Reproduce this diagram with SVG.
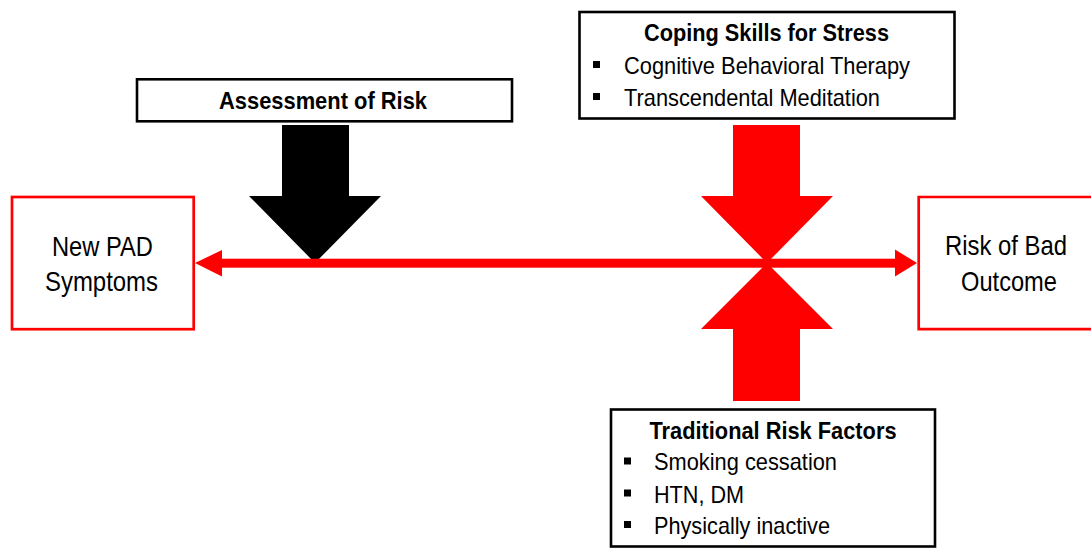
<svg xmlns="http://www.w3.org/2000/svg" width="1091" height="548" viewBox="0 0 1091 548">
<style>
.rbox{fill:#fff;stroke:#ff0000;stroke-width:2.7}
.kbox{fill:#fff;stroke:#000;stroke-width:2.6}
.big{font-family:"Liberation Sans Narrow","Arial Narrow","Liberation Sans",Arial,sans-serif;font-size:28px;fill:#000}
.ttl{font-family:"Liberation Sans",Arial,sans-serif;font-size:24px;font-weight:bold;fill:#000}
.itm{font-family:"Liberation Sans",Arial,sans-serif;font-size:24px;fill:#000}
.bul{fill:#000}
</style>
<rect width="1091" height="548" fill="#fff"/>
<g id="connectors">
<polygon id="arrow-assessment" points="282,125 349,125 349,196 381,196 315,263 249,196 282,196" fill="#000"/>
<polygon id="arrow-coping" points="733,125 800,125 800,196 833,196 767,263 701,196 733,196" fill="#ff0000"/>
<polygon id="arrow-traditional" points="733,401 800,401 800,329 833,329 767,263 701,329 733,329" fill="#ff0000"/>
<rect id="axis-line" x="220" y="258.7" width="677" height="9" fill="#ff0000"/>
<polygon points="195,263 222,250 222,276.5" fill="#ff0000"/>
<polygon points="917,263 895,249.5 895,276.5" fill="#ff0000"/>
</g>
<g id="node-new-pad">
<rect class="rbox" x="12" y="197" width="181.7" height="132.2"/>
<text class="big" x="52" y="256" textLength="101" lengthAdjust="spacingAndGlyphs">New PAD</text>
<text class="big" x="45" y="290.5" textLength="113" lengthAdjust="spacingAndGlyphs">Symptoms</text>
</g>
<g id="node-risk-outcome">
<path class="rbox" d="M1091,197 H918.7 V329.2 H1091"/>
<text class="big" x="945" y="255" textLength="122" lengthAdjust="spacingAndGlyphs">Risk of Bad</text>
<text class="big" x="961" y="290.5" textLength="96" lengthAdjust="spacingAndGlyphs">Outcome</text>
</g>
<g id="node-assessment">
<rect class="kbox" x="137" y="79.3" width="375" height="42"/>
<text class="ttl" x="219" y="109" textLength="208" lengthAdjust="spacingAndGlyphs">Assessment of Risk</text>
</g>
<g id="node-coping">
<rect class="kbox" x="579.5" y="12" width="375" height="106.5"/>
<text class="ttl" x="644" y="40.5" textLength="245" lengthAdjust="spacingAndGlyphs">Coping Skills for Stress</text>
<rect class="bul" x="593" y="61" width="7" height="7"/>
<text class="itm" x="624" y="74" textLength="286" lengthAdjust="spacingAndGlyphs">Cognitive Behavioral Therapy</text>
<rect class="bul" x="593" y="93" width="7" height="7"/>
<text class="itm" x="624" y="106" textLength="256" lengthAdjust="spacingAndGlyphs">Transcendental Meditation</text>
</g>
<g id="node-traditional">
<rect class="kbox" x="611" y="409.5" width="324" height="137"/>
<text class="ttl" x="649.5" y="438.5" textLength="247" lengthAdjust="spacingAndGlyphs">Traditional Risk Factors</text>
<rect class="bul" x="624" y="457.5" width="7" height="7"/>
<text class="itm" x="654" y="470" textLength="183" lengthAdjust="spacingAndGlyphs">Smoking cessation</text>
<rect class="bul" x="624" y="489.5" width="7" height="7"/>
<text class="itm" x="654" y="502.5" textLength="90" lengthAdjust="spacingAndGlyphs">HTN, DM</text>
<rect class="bul" x="624" y="521" width="7" height="7"/>
<text class="itm" x="654" y="533.5" textLength="176" lengthAdjust="spacingAndGlyphs">Physically inactive</text>
</g>
</svg>
